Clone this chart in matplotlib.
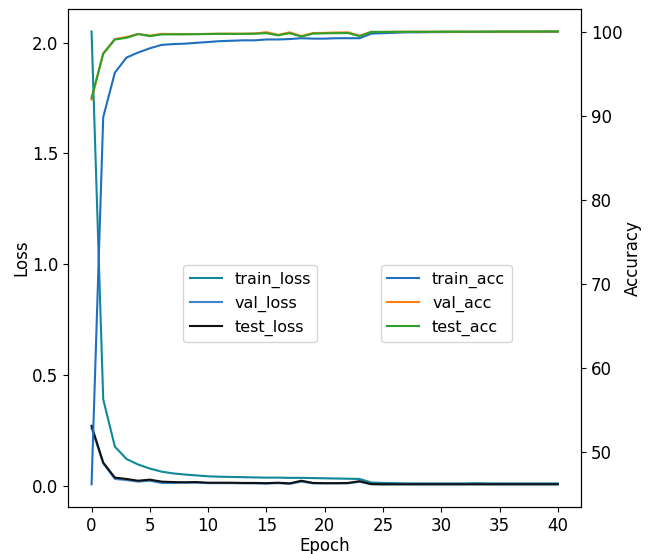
import numpy as np
import matplotlib
matplotlib.use("Agg")
import matplotlib.pyplot as plt

epochs = list(range(41))

train_loss = [2.05, 0.39, 0.176, 0.12, 0.095, 0.077, 0.063, 0.055, 0.05, 0.046,
              0.042, 0.04, 0.039, 0.038, 0.037, 0.036, 0.036, 0.035, 0.035, 0.034,
              0.033, 0.032, 0.031, 0.03, 0.014, 0.012, 0.011, 0.01, 0.01, 0.01,
              0.01, 0.01, 0.01, 0.011, 0.01, 0.01, 0.01, 0.01, 0.01, 0.01, 0.01]
val_loss = [0.26, 0.1, 0.03, 0.025, 0.018, 0.022, 0.012, 0.012, 0.013, 0.013,
            0.011, 0.011, 0.011, 0.01, 0.01, 0.009, 0.011, 0.008, 0.018, 0.01,
            0.01, 0.01, 0.01, 0.017, 0.006, 0.006, 0.006, 0.006, 0.006, 0.006,
            0.006, 0.006, 0.006, 0.006, 0.006, 0.006, 0.006, 0.006, 0.006, 0.006, 0.006]
test_loss = [0.27, 0.104, 0.036, 0.03, 0.022, 0.027, 0.018, 0.016, 0.015, 0.016,
             0.013, 0.013, 0.013, 0.012, 0.012, 0.011, 0.013, 0.01, 0.022, 0.012,
             0.011, 0.011, 0.012, 0.02, 0.007, 0.006, 0.006, 0.006, 0.006, 0.006,
             0.006, 0.006, 0.006, 0.006, 0.006, 0.006, 0.006, 0.006, 0.006, 0.006, 0.006]

train_acc = [46.1, 89.8, 95.1, 96.9, 97.5, 98.0, 98.4, 98.5, 98.55, 98.65,
             98.75, 98.85, 98.9, 98.95, 98.95, 99.05, 99.05, 99.1, 99.2, 99.15,
             99.15, 99.2, 99.2, 99.2, 99.75, 99.8, 99.85, 99.9, 99.9, 99.92,
             99.93, 99.94, 99.95, 99.95, 99.96, 99.97, 99.97, 99.98, 99.98, 99.98, 99.98]
val_acc = [91.9, 97.4, 99.1, 99.35, 99.7, 99.5, 99.72, 99.7, 99.7, 99.7,
           99.72, 99.74, 99.74, 99.74, 99.76, 99.92, 99.6, 99.9, 99.45, 99.82,
           99.84, 99.88, 99.9, 99.5, 99.95, 99.95, 99.96, 99.97, 99.97, 99.97,
           99.98, 99.98, 99.98, 99.98, 99.98, 99.99, 99.99, 99.99, 99.99, 100.0, 100.0]
test_acc = [92.1, 97.35, 99.05, 99.25, 99.7, 99.45, 99.65, 99.66, 99.66, 99.68,
            99.7, 99.72, 99.72, 99.72, 99.74, 99.8, 99.55, 99.8, 99.4, 99.75,
            99.78, 99.8, 99.82, 99.45, 99.95, 99.95, 99.96, 99.97, 99.97, 99.97,
            99.98, 99.98, 99.98, 99.98, 99.98, 99.99, 99.99, 99.99, 99.99, 100.0, 100.0]

plt.rcParams['font.size'] = 12

fig = plt.figure(figsize=(6.5, 5.54), dpi=100)
ax1 = fig.add_axes([0.105, 0.085, 0.789, 0.899])
ax2 = ax1.twinx()

ax1.plot(epochs, train_loss, color='#10879a', lw=1.5, label='train_loss')
ax1.plot(epochs, val_loss, color='#3a86c8', lw=1.5, label='val_loss')
ax1.plot(epochs, test_loss, color='#111111', lw=1.5, label='test_loss')

ax2.plot(epochs, train_acc, color='#1f6fbf', lw=1.5, label='train_acc')
ax2.plot(epochs, val_acc, color='#ff7f0e', lw=1.5, label='val_acc')
ax2.plot(epochs, test_acc, color='#2ca02c', lw=1.5, label='test_acc')

ax1.set_xlabel('Epoch', labelpad=2)
ax1.set_ylabel('Loss', labelpad=1)
ax2.set_ylabel('Accuracy', labelpad=1)
ax1.set_xticks(range(0, 41, 5))
ax1.set_yticks(np.arange(0, 2.01, 0.5))
ax2.set_yticks(range(50, 101, 10))

ax1.legend(loc='center', bbox_to_anchor=(0.355, 0.408), fontsize=11.5)
ax2.legend(loc='center', bbox_to_anchor=(0.737, 0.408), fontsize=11.5)

fig.savefig('out.png')
